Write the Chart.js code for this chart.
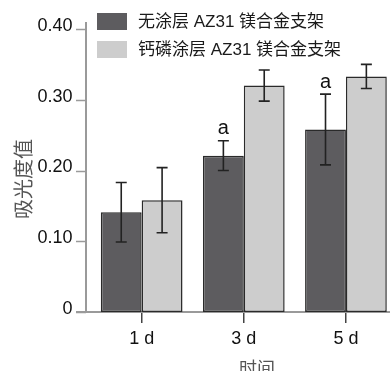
<!DOCTYPE html>
<html>
<head>
<meta charset="utf-8">
<script src="https://cdn.jsdelivr.net/npm/chart.js@4.4.1/dist/chart.umd.min.js"></script>
<style>
  html, body { margin: 0; padding: 0; background: #fff; overflow: hidden; }
  #wrap { width: 400px; height: 371px; }
</style>
</head>
<body>
<div id="wrap"><canvas id="absChart" width="400" height="371"></canvas></div>
<script>
// 数据
const days = ['1 d', '3 d', '5 d'];
const seriesNames = ['无涂层 AZ31 镁合金支架', '钙磷涂层 AZ31 镁合金支架'];
const uncoated = [0.141, 0.221, 0.258];
const uncoatedErr = [0.042, 0.021, 0.050];
const coated = [0.158, 0.320, 0.333];
const coatedErr = [0.046, 0.022, 0.017];
const uncoatedMarks = ['', 'a', 'a'];
const yTicks = [0, 0.1, 0.2, 0.3, 0.4];

const darkFill = '#5d5c5f';
const lightFill = '#cdcdcd';
const latinCjk = '"Liberation Sans", Arial, "Noto Sans CJK SC", sans-serif';

// 误差棒、坐标轴、图例、标注
const decor = {
    id: 'decor',
    beforeDatasetsDraw(chart) {
        const { ctx, chartArea: a, scales: { y } } = chart;
        const ax = a.left - 4.6;
        ctx.save();
        ctx.strokeStyle = '#9a9a9a';
        ctx.lineWidth = 2;
        ctx.beginPath();
        ctx.moveTo(ax, a.top - 7);
        ctx.lineTo(ax, a.bottom);
        ctx.stroke();
        ctx.lineWidth = 1.5;
        yTicks.forEach(v => {
            const py = Math.round(y.getPixelForValue(v)) + 0.5;
            ctx.beginPath();
            ctx.moveTo(ax - 10, py);
            ctx.lineTo(ax, py);
            ctx.stroke();
        });
        ctx.lineWidth = 2;
        ctx.beginPath();
        ctx.moveTo(ax - 10, a.bottom);
        ctx.lineTo(390, a.bottom);
        ctx.stroke();
        ctx.restore();
    },
    afterDatasetsDraw(chart) {
        const { ctx, scales: { y } } = chart;
        const errs = [uncoatedErr, coatedErr];
        ctx.save();
        ctx.strokeStyle = '#222';
        ctx.lineWidth = 1.6;
        chart.data.datasets.forEach((ds, i) => {
            chart.getDatasetMeta(i).data.forEach((bar, j) => {
                const v = ds.data[j];
                const top = y.getPixelForValue(v + errs[i][j]);
                const bot = y.getPixelForValue(v - errs[i][j]);
                const x = bar.x;
                ctx.beginPath();
                ctx.moveTo(x, top); ctx.lineTo(x, bot);
                ctx.moveTo(x - 5.5, top); ctx.lineTo(x + 5.5, top);
                ctx.moveTo(x - 5.5, bot); ctx.lineTo(x + 5.5, bot);
                ctx.stroke();
                if (i === 0 && uncoatedMarks[j]) {
                    ctx.fillStyle = '#111';
                    ctx.font = '20px "Liberation Sans", Arial, sans-serif';
                    ctx.textAlign = 'center';
                    ctx.textBaseline = 'middle';
                    ctx.fillText(uncoatedMarks[j], x, top - 12);
                }
            });
        });
        ctx.restore();
    },
    afterDraw(chart) {
        const { ctx } = chart;
        const fills = [darkFill, lightFill];
        ctx.save();
        ctx.font = '17px ' + latinCjk;
        ctx.textBaseline = 'middle';
        ctx.textAlign = 'left';
        seriesNames.forEach((name, i) => {
            const top = 13 + i * 28;
            ctx.fillStyle = fills[i];
            ctx.fillRect(97, top, 30, 17);
            ctx.fillStyle = '#1a1a1a';
            ctx.fillText(name, 138, top + 9);
        });
        // 轴标题
        ctx.fillStyle = '#555';
        ctx.font = '18px "Noto Sans CJK SC", sans-serif';
        ctx.textAlign = 'center';
        ctx.fillText('时间', 257, 368);
        ctx.translate(23, 179);
        ctx.rotate(-Math.PI / 2);
        ctx.font = '20px "Noto Sans CJK SC", sans-serif';
        ctx.fillText('吸光度值', 0, 0);
        ctx.restore();
    }
};

const ctx = document.getElementById('absChart').getContext('2d');

const absChart = new Chart(ctx, {
    type: 'bar',
    data: {
        labels: days,
        datasets: [{
            label: seriesNames[0],
            data: uncoated,
            backgroundColor: darkFill,
            borderColor: '#2a2a2a',
            borderWidth: 1.5,
            borderSkipped: false
        }, {
            label: seriesNames[1],
            data: coated,
            backgroundColor: lightFill,
            borderColor: '#2a2a2a',
            borderWidth: 1.5,
            borderSkipped: false
        }]
    },
    options: {
        responsive: false,
        animation: false,
        devicePixelRatio: 1,
        layout: { padding: { left: 0, right: 3, top: 29, bottom: 0 } },
        datasets: { bar: { barPercentage: 1, categoryPercentage: 0.8 } },
        plugins: {
            legend: { display: false },
            tooltip: { enabled: false }
        },
        scales: {
            x: {
                afterFit: s => { s.height = 59; },
                border: { display: false },
                grid: {
                    display: true,
                    drawOnChartArea: false,
                    offset: false,
                    tickLength: 11,
                    color: '#444',
                    lineWidth: 1.5
                },
                ticks: {
                    padding: 5,
                    color: '#111',
                    font: { family: '"Liberation Sans", Arial, sans-serif', size: 18 }
                }
            },
            y: {
                min: 0,
                max: 0.4,
                afterFit: s => { s.width = 90.6; },
                border: { display: false },
                grid: { display: false, drawTicks: false },
                ticks: {
                    stepSize: 0.1,
                    padding: 18,
                    labelOffset: -3,
                    color: '#111',
                    font: { family: '"Liberation Sans", Arial, sans-serif', size: 18 },
                    callback: v => v === 0 ? '0' : v.toFixed(2)
                }
            }
        }
    },
    plugins: [decor]
});
</script>
</body>
</html>
